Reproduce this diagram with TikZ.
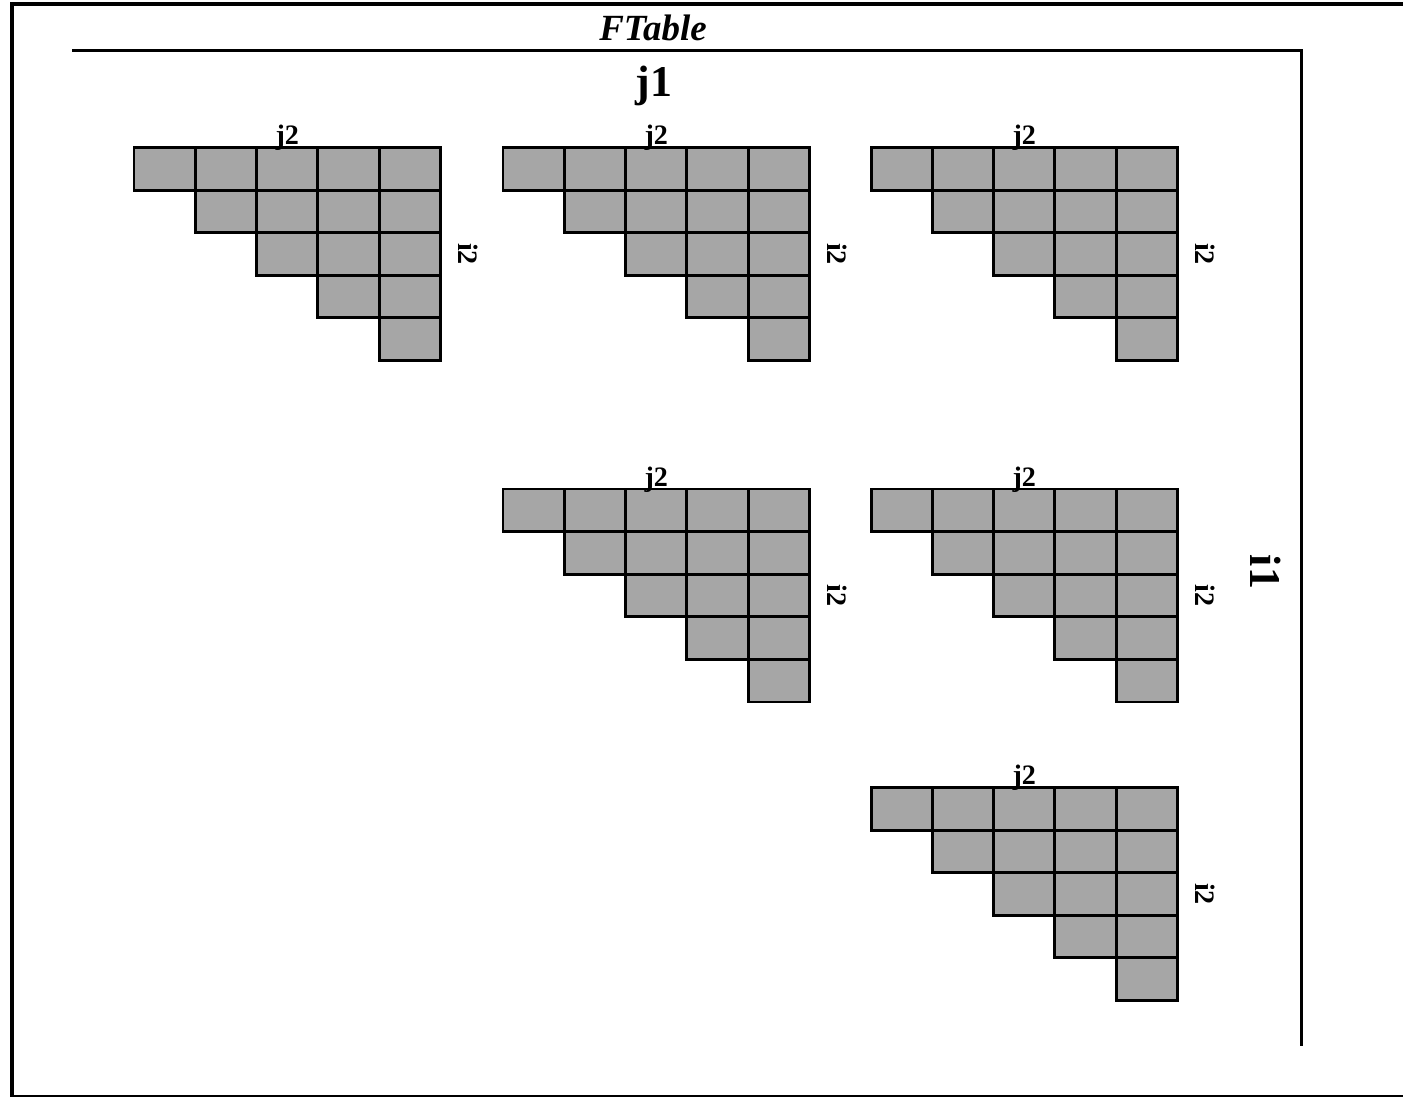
\documentclass[tikz,border=0pt]{standalone}
\usepackage{fontspec}
\setmainfont{Liberation Serif}
\usepackage{xcolor}
\definecolor{cellgray}{RGB}{166,166,166}

\begin{document}
\begin{tikzpicture}[x=0.02cm,y=-0.02cm,
    cell/.style={fill=cellgray,draw=black,line width=1.7pt},
    frameline/.style={line width=1.7pt},
    smalllbl/.style={font=\bfseries\fontsize{16}{18}\selectfont},
    biglbl/.style={font=\bfseries\fontsize{25}{28}\selectfont}]
  \useasboundingbox (0,0) rectangle (1403,1097);
  \draw[line width=2pt] (12,4) rectangle (1410,1097);
  \draw[frameline] (72,51) -- (1301,51) -- (1301,1046);
  \node[font=\bfseries\itshape\fontsize{21}{24}\selectfont, anchor=base] (title) at (653,41) {FTable};
  \node[biglbl, anchor=base] (jone) at (654,97) {j1};
  \node[biglbl, rotate=-90, anchor=base] (ione) at (1250,572) {i1};
  % one triangle of cells per (i1,j1) block
  \foreach \tx/\ty/\n in {134/147.5/a, 503/147.5/b, 871/147.5/c, 503/489/d, 871/489/e, 871/787.5/f}{
    \foreach \r in {0,...,4}
      \foreach \c in {\r,...,4}
        \draw[cell] ({\tx+\c*61.3},{\ty+\r*42.6}) rectangle +(61.3,42.6);
    \node[smalllbl, anchor=base] (jtwo\n) at ({\tx+153.3},{\ty-2.5}) {j2};
    \node[smalllbl, rotate=-90, anchor=base] (itwo\n) at ({\tx+324},{\ty+106.5}) {i2};
  }
\end{tikzpicture}
\end{document}
